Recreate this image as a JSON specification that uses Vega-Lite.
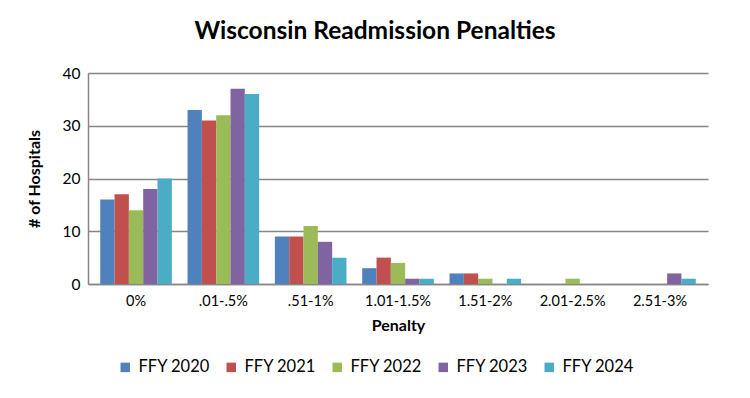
{
  "$schema": "https://vega.github.io/schema/vega-lite/v6.json",
  "width": 620,
  "height": 211,
  "autosize": {"type": "none"},
  "padding": {"left": 88, "top": 73, "right": 42, "bottom": 114},
  "background": "white",
  "title": {
    "text": "Wisconsin Readmission Penalties",
    "font": "Lato",
    "fontSize": 24.5,
    "fontWeight": "bold",
    "color": "#000000",
    "anchor": "middle",
    "dx": -23,
    "offset": 22
  },
  "data": {
    "values": [
      {"penalty": "0%", "year": "FFY 2020", "count": 16},
      {"penalty": "0%", "year": "FFY 2021", "count": 17},
      {"penalty": "0%", "year": "FFY 2022", "count": 14},
      {"penalty": "0%", "year": "FFY 2023", "count": 18},
      {"penalty": "0%", "year": "FFY 2024", "count": 20},
      {"penalty": ".01-.5%", "year": "FFY 2020", "count": 33},
      {"penalty": ".01-.5%", "year": "FFY 2021", "count": 31},
      {"penalty": ".01-.5%", "year": "FFY 2022", "count": 32},
      {"penalty": ".01-.5%", "year": "FFY 2023", "count": 37},
      {"penalty": ".01-.5%", "year": "FFY 2024", "count": 36},
      {"penalty": ".51-1%", "year": "FFY 2020", "count": 9},
      {"penalty": ".51-1%", "year": "FFY 2021", "count": 9},
      {"penalty": ".51-1%", "year": "FFY 2022", "count": 11},
      {"penalty": ".51-1%", "year": "FFY 2023", "count": 8},
      {"penalty": ".51-1%", "year": "FFY 2024", "count": 5},
      {"penalty": "1.01-1.5%", "year": "FFY 2020", "count": 3},
      {"penalty": "1.01-1.5%", "year": "FFY 2021", "count": 5},
      {"penalty": "1.01-1.5%", "year": "FFY 2022", "count": 4},
      {"penalty": "1.01-1.5%", "year": "FFY 2023", "count": 1},
      {"penalty": "1.01-1.5%", "year": "FFY 2024", "count": 1},
      {"penalty": "1.51-2%", "year": "FFY 2020", "count": 2},
      {"penalty": "1.51-2%", "year": "FFY 2021", "count": 2},
      {"penalty": "1.51-2%", "year": "FFY 2022", "count": 1},
      {"penalty": "1.51-2%", "year": "FFY 2023", "count": 0},
      {"penalty": "1.51-2%", "year": "FFY 2024", "count": 1},
      {"penalty": "2.01-2.5%", "year": "FFY 2020", "count": 0},
      {"penalty": "2.01-2.5%", "year": "FFY 2021", "count": 0},
      {"penalty": "2.01-2.5%", "year": "FFY 2022", "count": 1},
      {"penalty": "2.01-2.5%", "year": "FFY 2023", "count": 0},
      {"penalty": "2.01-2.5%", "year": "FFY 2024", "count": 0},
      {"penalty": "2.51-3%", "year": "FFY 2020", "count": 0},
      {"penalty": "2.51-3%", "year": "FFY 2021", "count": 0},
      {"penalty": "2.51-3%", "year": "FFY 2022", "count": 0},
      {"penalty": "2.51-3%", "year": "FFY 2023", "count": 2},
      {"penalty": "2.51-3%", "year": "FFY 2024", "count": 1}
    ]
  },
  "mark": {"type": "bar", "stroke": null},
  "encoding": {
    "x": {
      "field": "penalty",
      "type": "nominal",
      "sort": ["0%", ".01-.5%", ".51-1%", "1.01-1.5%", "1.51-2%", "2.01-2.5%", "2.51-3%"],
      "scale": {"paddingInner": 0.18, "paddingOuter": 0.14},
      "axis": {
        "title": "Penalty",
        "titleFont": "Lato",
        "titleFontSize": 16,
        "titleFontWeight": "bold",
        "titleColor": "#000000",
        "titlePadding": 10,
        "labelFont": "Lato",
        "labelFontSize": 14.5,
        "labelColor": "#000000",
        "labelAngle": 0,
        "labelPadding": 10,
        "ticks": false,
        "domainColor": "#868686",
        "domainWidth": 1.5
      }
    },
    "xOffset": {
      "field": "year",
      "type": "nominal",
      "scale": {"paddingInner": 0, "paddingOuter": 0}
    },
    "y": {
      "field": "count",
      "type": "quantitative",
      "scale": {"domain": [0, 40]},
      "axis": {
        "title": "# of Hospitals",
        "titleFont": "Lato",
        "titleFontSize": 16,
        "titleFontWeight": "bold",
        "titleColor": "#000000",
        "titlePadding": 20,
        "labelFont": "Lato",
        "labelFontSize": 15.5,
        "labelColor": "#000000",
        "labelPadding": 8,
        "values": [0, 10, 20, 30, 40],
        "ticks": false,
        "grid": true,
        "gridColor": "#868686",
        "gridWidth": 1.5,
        "domainColor": "#868686",
        "domainWidth": 1.5
      }
    },
    "color": {
      "field": "year",
      "type": "nominal",
      "scale": {"range": ["#4F81BD", "#C0504D", "#9BBB59", "#8064A2", "#4BACC6"]},
      "legend": {
        "title": null,
        "orient": "none",
        "legendX": 29,
        "legendY": 286,
        "direction": "horizontal",
        "symbolType": "square",
        "symbolSize": 90,
        "symbolStrokeWidth": 0,
        "labelFont": "Lato",
        "labelFontSize": 16.5,
        "labelColor": "#000000",
        "labelOffset": 5,
        "columnPadding": 13
      }
    }
  },
  "config": {
    "view": {"stroke": null}
  }
}
